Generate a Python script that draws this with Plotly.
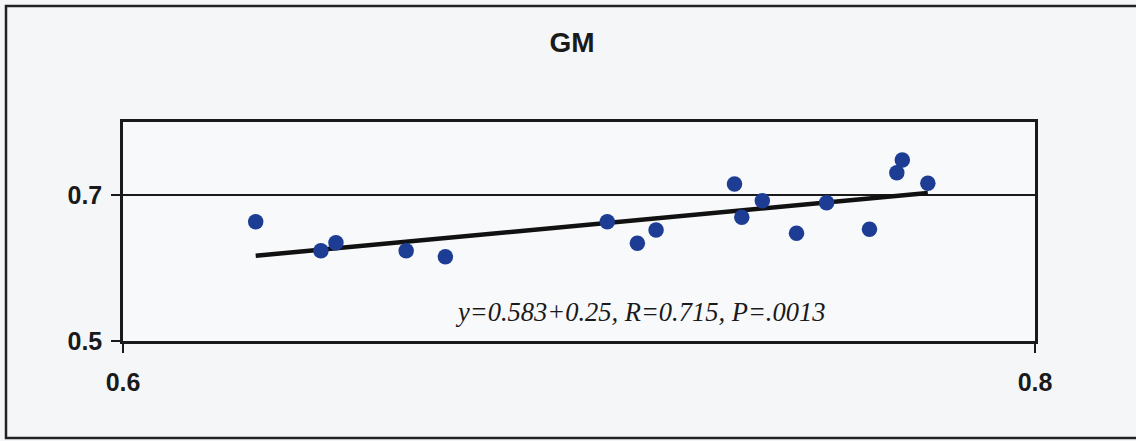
import numpy as np
import plotly.graph_objects as go

# Data
x_vals = [0.6291, 0.6434, 0.6467, 0.6621, 0.6707, 0.7062, 0.7128, 0.7169, 0.7341,
          0.7357, 0.7402, 0.7477, 0.7543, 0.7637, 0.7697, 0.7709, 0.7765]
y_vals = [0.6634, 0.6237, 0.6347, 0.6237, 0.6155, 0.6634, 0.6338, 0.6521, 0.7151,
          0.6695, 0.6922, 0.6475, 0.6895, 0.6530, 0.7305, 0.7479, 0.7160]
fit_slope = 0.583
fit_intercept = 0.25
x_ticks = [0.6, 0.8]
y_ticks = [0.5, 0.7]
title_text = "GM"
stats_text = "y=0.583+0.25, R=0.715, P=.0013"

x_arr = np.array(x_vals)
fit_x = np.array([x_arr.min(), x_arr.max()])
fit_y = fit_slope * fit_x + fit_intercept

fig = go.Figure()
fig.add_trace(go.Scatter(
    x=fit_x, y=fit_y, mode="lines",
    line=dict(color="#111111", width=4.5), showlegend=False, hoverinfo="skip"))
fig.add_trace(go.Scatter(
    x=x_vals, y=y_vals, mode="markers",
    marker=dict(color="#1d3d94", size=15.5, line=dict(width=0)), showlegend=False))

W, H = 1136, 441
L, R, T, B = 123, 1035, 122, 341
pw, ph = R - L, B - T

def px_x(p):
    return (p - L) / pw

def px_y(p):
    return (B - p) / ph

fig.add_shape(type="rect", xref="paper", yref="paper",
              x0=px_x(6), x1=px_x(1145), y0=px_y(438), y1=px_y(6),
              line=dict(color="#222222", width=2.5), layer="below")

fig.update_layout(
    width=W, height=H,
    margin=dict(l=L, r=W - R, t=T, b=H - B, pad=0),
    paper_bgcolor="#f5f6f8",
    plot_bgcolor="#f8f9fb",
    title=dict(text=title_text, x=px_x(572), xref="paper", xanchor="center",
               y=1 - 42 / H, yanchor="middle",
               font=dict(family="Liberation Sans, Arial", size=28, color="#1a1a1a", weight="bold")),
    annotations=[dict(text=stats_text, xref="paper", yref="paper",
                      x=px_x(640), y=px_y(311.7), showarrow=False,
                      xanchor="center", yanchor="middle",
                      font=dict(family="Liberation Serif, Times New Roman", size=26.5,
                                color="#1a1a1a", style="italic"))],
)
fig.update_xaxes(range=[0.6, 0.8], tickvals=x_ticks, ticktext=["0.6", "0.8"],
                 showline=True, mirror=True, linecolor="#1a1a1a", linewidth=2.5,
                 ticks="outside", ticklen=9, tickwidth=2, tickcolor="#1a1a1a",
                 showgrid=False, zeroline=False, ticklabelstandoff=8,
                 tickfont=dict(family="Liberation Sans, Arial", size=25, color="#1a1a1a", weight="bold"))
fig.update_yaxes(range=[0.5, 0.8], tickvals=y_ticks, ticktext=["0.5", "0.7"],
                 showline=True, mirror=True, linecolor="#1a1a1a", linewidth=2.5,
                 ticks="outside", ticklen=9, tickwidth=2, tickcolor="#1a1a1a",
                 showgrid=True, gridcolor="#1a1a1a", gridwidth=2, zeroline=False,
                 ticklabelstandoff=4,
                 tickfont=dict(family="Liberation Sans, Arial", size=25, color="#1a1a1a", weight="bold"))

fig.write_html("out.html", config={"displayModeBar": False},
               post_script="document.body.style.margin='0';document.body.style.background='#f5f6f8';")
